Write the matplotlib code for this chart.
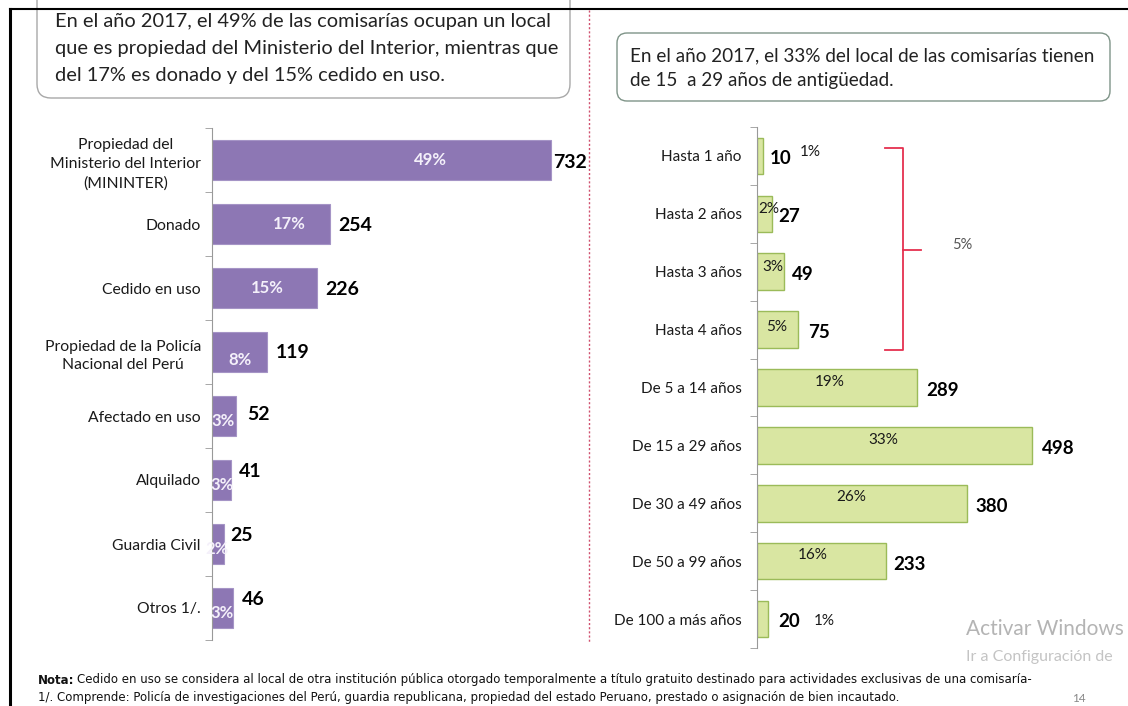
import numpy as np
import matplotlib
matplotlib.use("Agg")
import matplotlib.pyplot as plt
from matplotlib.patches import FancyBboxPatch

plt.rcParams['font.family'] = ['Lato', 'DejaVu Sans']

# data -- left chart (régimen de tenencia)
tenencia = ['Propiedad del\nMinisterio del Interior\n(MININTER)', 'Donado', 'Cedido en uso',
            'Propiedad de la Policía\nNacional del Perú', 'Afectado en uso', 'Alquilado',
            'Guardia Civil', 'Otros 1/.']
tenencia_n = [732, 254, 226, 119, 52, 41, 25, 46]
tenencia_pct = ['49%', '17%', '15%', '8%', '3%', '3%', '2%', '3%']

# data -- right chart (antigüedad)
antiguedad = ['Hasta 1 año', 'Hasta 2 años', 'Hasta 3 años', 'Hasta 4 años', 'De 5 a 14 años',
              'De 15 a 29 años', 'De 30 a 49 años', 'De 50 a 99 años', 'De 100 a más años']
antiguedad_n = [10, 27, 49, 75, 289, 498, 380, 233, 20]
antiguedad_pct = ['1%', '2%', '3%', '5%', '19%', '33%', '26%', '16%', '1%']

W, H = 1128, 706
fig = plt.figure(figsize=(W / 100, H / 100), dpi=100)

def px_axes(x0, y0, x1, y1):
    ax = fig.add_axes([x0 / W, 1 - y1 / H, (x1 - x0) / W, (y1 - y0) / H])
    ax.patch.set_alpha(0)
    return ax

purple = '#8d77b4'
green_fill = '#d9e6a2'
green_edge = '#9bbb59'
txt = '#1a1a1a'

# ---------------- left chart ----------------
axl = px_axes(212, 128, 580, 640)
yl = np.arange(len(tenencia))
bars = axl.barh(yl, tenencia_n, height=0.62, color=purple, edgecolor='#a594c6', lw=0.8)
axl.set_xlim(0, 368 / 0.463)
axl.set_ylim(len(tenencia) - 0.5, -0.5)
axl.set_yticks(yl)
axl.set_yticklabels(tenencia, fontsize=11.3, color=txt, linespacing=1.45)
for lab in axl.get_yticklabels():
    lab.set_multialignment('center')
axl.tick_params(axis='y', which='major', length=0, pad=8)
axl.set_yticks(np.arange(-0.5, len(tenencia)), minor=True)
axl.tick_params(axis='y', which='minor', length=5, color='#999999')
axl.set_xticks([])
for s in ['top', 'right', 'bottom']:
    axl.spines[s].set_visible(False)
axl.spines['left'].set_color('#999999')

# label layout (data x, row offset)
pct_x_l = [471, 168, 119, 60, 24, 22, 11, 22]
pct_dy_l = [0, 0, 0, 0.12, 0.08, 0.08, 0.08, 0.08]
val_dx_l = [4, 18, 18, 18, 25, 16, 15, 18]
val_dy_l = [0.04, 0.03, 0.03, 0.0, -0.02, -0.14, -0.13, -0.14]
for i, b in enumerate(bars):
    t = axl.text(pct_x_l[i], i + pct_dy_l[i], tenencia_pct[i], ha='center', va='center',
                 color='#f4f0fa', fontsize=12, fontweight='bold')
    t.set_clip_path(b)
    axl.text(tenencia_n[i] + val_dx_l[i], i + val_dy_l[i], str(tenencia_n[i]), ha='left',
             va='center', color='black', fontsize=14, fontweight='bold')

# ---------------- right chart ----------------
axr = px_axes(757, 127, 1128, 648)
yr = np.arange(len(antiguedad))
axr.barh(yr, antiguedad_n, height=0.63, color=green_fill, edgecolor=green_edge, lw=1.0)
axr.set_xlim(0, 371 / 0.552)
axr.set_ylim(len(antiguedad) - 0.5, -0.5)
axr.set_yticks(yr)
axr.set_yticklabels(antiguedad, fontsize=11, color=txt)
axr.tick_params(axis='y', which='major', length=0, pad=11)
axr.set_yticks(np.arange(-0.5, len(antiguedad)), minor=True)
axr.tick_params(axis='y', which='minor', length=5, color='#999999')
axr.set_xticks([])
for s in ['top', 'right', 'bottom']:
    axr.spines[s].set_visible(False)
axr.spines['left'].set_color('#999999')

pct_x_r = [78, 2, 9, 16, 132, 228, 170, 101, 103]
pct_ha_r = ['left', 'left', 'left', 'left', 'center', 'center', 'center', 'center', 'left']
pct_dy_r = [-0.06, -0.08, -0.08, -0.05, -0.1, -0.09, -0.1, -0.1, 0.03]
val_dx_r = [13, 11, 15, 18, 18, 18, 15, 14, 18]
for i, v in enumerate(antiguedad_n):
    axr.text(pct_x_r[i], i + pct_dy_r[i], antiguedad_pct[i], ha=pct_ha_r[i], va='center',
             color=txt, fontsize=11)
    axr.text(v + val_dx_r[i], i + 0.05, str(v), ha='left', va='center', color='black',
             fontsize=13.5, fontweight='bold')

# red bracket grouping the first four rows
bx0, bx1, bx2 = 232, 264.5, 297
by0, by1, bym = -0.137, 3.35, 1.62
axr.plot([bx0, bx1, bx1, bx0], [by0, by0, by1, by1], color='#e5304f', lw=1.3, clip_on=False)
axr.plot([bx1, bx2], [bym, bym], color='#e5304f', lw=1.3, clip_on=False)
axr.text(353, 1.54, '5%', ha='left', va='center', color='#555555', fontsize=10.5)

# ---------------- page decoration ----------------
ov = fig.add_axes([0, 0, 1, 1], zorder=-1)
ov.set_xlim(0, W)
ov.set_ylim(H, 0)
ov.axis('off')

box_l = FancyBboxPatch((37, -30), 533, 128, boxstyle='round,pad=0,rounding_size=14',
                       fc='white', ec='#a8a8a8', lw=1.0, zorder=1)
ov.add_patch(box_l)
head_l = ['En el año 2017, el 49% de las comisarías ocupan un local',
          'que es propiedad del Ministerio del Interior, mientras que',
          'del 17% es donado y del 15% cedido en uso.']
for k, line in enumerate(head_l):
    ov.text(55, 22 + k * 26.5, line, ha='left', va='center', fontsize=14.4, color='#222222')

box_r = FancyBboxPatch((617, 33), 493, 68, boxstyle='round,pad=0,rounding_size=10',
                       fc='white', ec='#7f9488', lw=1.0, zorder=1)
ov.add_patch(box_r)
head_r = ['En el año 2017, el 33% del local de las comisarías tienen',
          'de 15  a 29 años de antigüedad.']
for k, line in enumerate(head_r):
    ov.text(630, 56 + k * 24.5, line, ha='left', va='center', fontsize=13.6, color='#222222')

ov.plot([10, 10], [9, H], color='black', lw=2.2, zorder=3)
ov.plot([10, W], [9, 9], color='black', lw=1.5, zorder=3)
ov.plot([589, 589], [10, 642], color='#d0506e', lw=1, ls=(0, (1.5, 1.5)), zorder=3)

note_font = ['Liberation Sans Narrow', 'DejaVu Sans']
ov.text(38, 680, 'Nota:', ha='left', va='center', fontsize=8.5, fontweight='bold',
        family=note_font, color='#111111')
ov.text(77, 680, 'Cedido en uso se considera al local de otra institución pública otorgado temporalmente '
        'a título gratuito destinado para actividades exclusivas de una comisaría-',
        ha='left', va='center', fontsize=8.5, family=note_font, color='#111111')
ov.text(38, 697, '1/. Comprende: Policía de investigaciones del Perú, guardia republicana, propiedad del '
        'estado Peruano, prestado o asignación de bien incautado.',
        ha='left', va='center', fontsize=8.5, family=note_font, color='#111111')
ov.text(1072, 699, '14', ha='left', va='center', fontsize=8.5, color='#888888')

ov.text(966, 629, 'Activar Windows', ha='left', va='center', fontsize=15, color='#b4b4b4')
ov.text(966, 657, 'Ir a Configuración de', ha='left', va='center', fontsize=11.5, color='#c4c4c4')

fig.savefig('out.png', dpi=100)
